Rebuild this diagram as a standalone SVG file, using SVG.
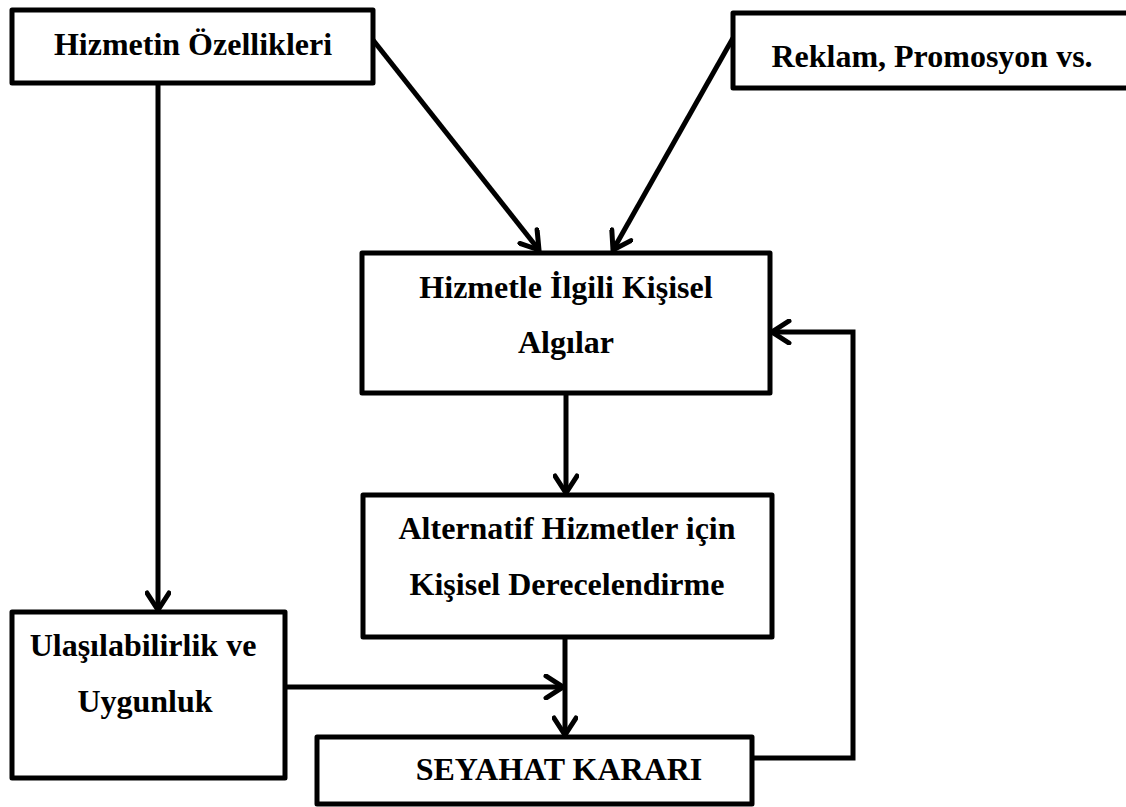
<svg xmlns="http://www.w3.org/2000/svg" width="1126" height="807" viewBox="0 0 1126 807">
  <style>
    .box { fill: #ffffff; stroke: #000000; stroke-width: 5; stroke-linejoin: round; }
    .label { font-family: "Liberation Serif", "Times New Roman", serif; font-weight: bold; font-size: 32px; fill: #000000; text-anchor: middle; }
    .link { fill: none; stroke: #000000; stroke-width: 5; stroke-linejoin: miter; }
  </style>
  <defs>
    <!-- open chevron arrowhead -->
    <marker id="arrow" viewBox="0 0 26 26" refX="22" refY="13" markerWidth="26" markerHeight="26" markerUnits="userSpaceOnUse" orient="auto">
      <path d="M5,2 L22,13 L5,24" fill="none" stroke="#000000" stroke-width="5" stroke-linecap="round" stroke-linejoin="miter"/>
    </marker>
  </defs>
  <rect width="1126" height="807" fill="#ffffff"/>

  <!-- connectors -->
  <g id="connectors">
    <path class="link" d="M158,83 L158,610" marker-end="url(#arrow)"/>
    <path class="link" d="M373,40 L539,250" marker-end="url(#arrow)"/>
    <path class="link" d="M733,38 L613,250" marker-end="url(#arrow)"/>
    <path class="link" d="M566,393 L566,493" marker-end="url(#arrow)"/>
    <path class="link" d="M565,637 L565,735" marker-end="url(#arrow)"/>
    <path class="link" d="M285,687 L563,687" marker-end="url(#arrow)"/>
    <path class="link" d="M752,758 L853,758 L853,332 L772,332" marker-end="url(#arrow)"/>
  </g>

  <!-- nodes -->
  <g id="node-hizmetin-ozellikleri">
    <rect class="box" x="12" y="10" width="361" height="73"/>
    <text class="label" x="193" y="55">Hizmetin Özellikleri</text>
  </g>

  <g id="node-reklam">
    <rect class="box" x="733" y="13" width="400" height="75"/>
    <text class="label" x="932" y="67">Reklam, Promosyon vs.</text>
  </g>

  <g id="node-kisisel-algilar">
    <rect class="box" x="362" y="253" width="408" height="140"/>
    <text class="label" x="566" y="298">Hizmetle İlgili Kişisel</text>
    <text class="label" x="566" y="353">Algılar</text>
  </g>

  <g id="node-derecelendirme">
    <rect class="box" x="363" y="495" width="409" height="142"/>
    <text class="label" x="567" y="539">Alternatif Hizmetler için</text>
    <text class="label" x="567" y="595">Kişisel Derecelendirme</text>
  </g>

  <g id="node-ulasilabilirlik">
    <rect class="box" x="12" y="612" width="273" height="166"/>
    <text class="label" x="143" y="656">Ulaşılabilirlik ve</text>
    <text class="label" x="145" y="712">Uygunluk</text>
  </g>

  <g id="node-seyahat-karari">
    <rect class="box" x="317" y="737" width="435" height="67"/>
    <text class="label" x="559" y="780">SEYAHAT KARARI</text>
  </g>
</svg>
